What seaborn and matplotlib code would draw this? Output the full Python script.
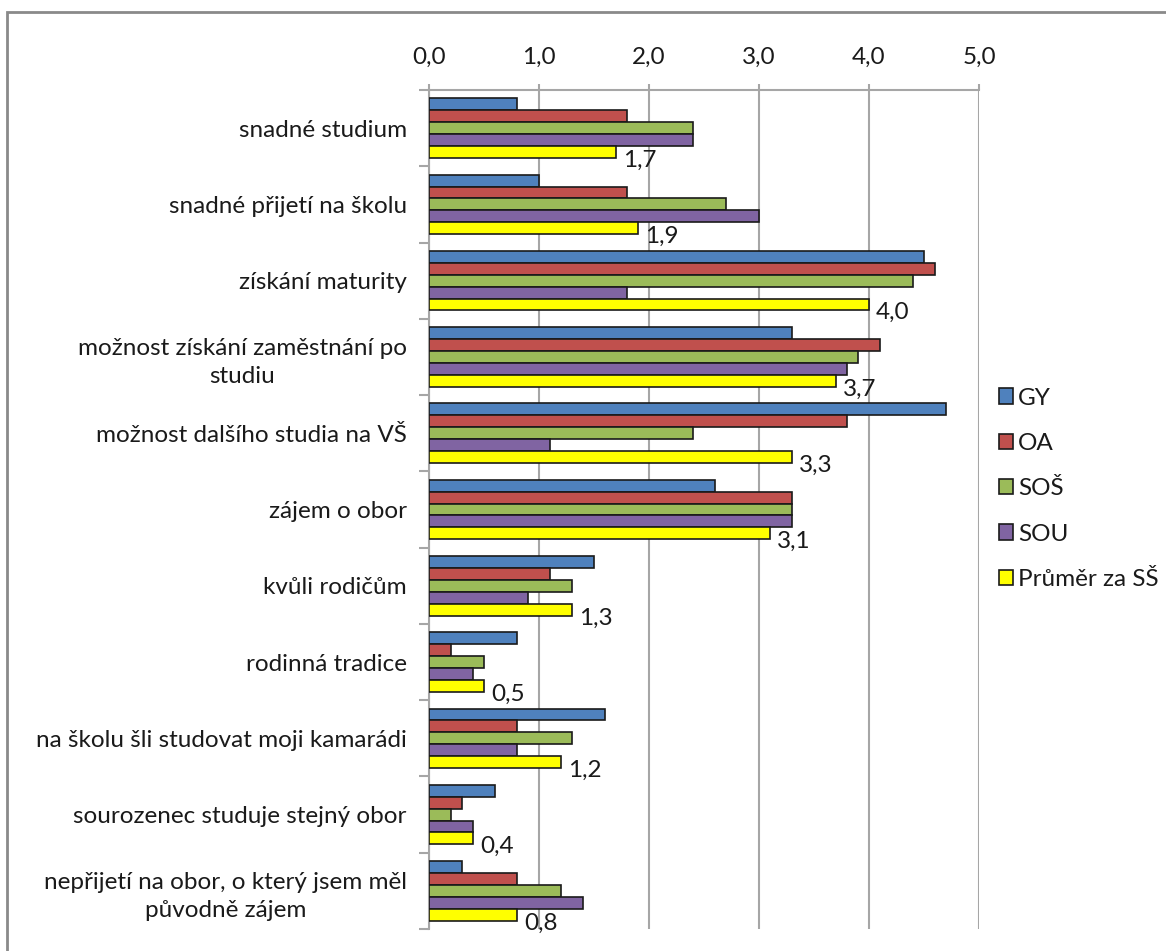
import numpy as np
import pandas as pd
import matplotlib
matplotlib.use("Agg")
import matplotlib.pyplot as plt
import matplotlib.patches as mpatches
from matplotlib.ticker import FuncFormatter
import seaborn as sns

# Reasons for choosing a secondary school, average score by school type
categories = [
    "snadné studium",
    "snadné přijetí na školu",
    "získání maturity",
    "možnost získání zaměstnání po\nstudiu",
    "možnost dalšího studia na VŠ",
    "zájem o obor",
    "kvůli rodičům",
    "rodinná tradice",
    "na školu šli studovat moji kamarádi",
    "sourozenec studuje stejný obor",
    "nepřijetí na obor, o který jsem měl\npůvodně zájem",
]
gy = [0.8, 1.0, 4.5, 3.3, 4.7, 2.6, 1.5, 0.8, 1.6, 0.6, 0.3]
oa = [1.8, 1.8, 4.6, 4.1, 3.8, 3.3, 1.1, 0.2, 0.8, 0.3, 0.8]
sos = [2.4, 2.7, 4.4, 3.9, 2.4, 3.3, 1.3, 0.5, 1.3, 0.2, 1.2]
sou = [2.4, 3.0, 1.8, 3.8, 1.1, 3.3, 0.9, 0.4, 0.8, 0.4, 1.4]
prumer = [1.7, 1.9, 4.0, 3.7, 3.3, 3.1, 1.3, 0.5, 1.2, 0.4, 0.8]

series_names = ["GY", "OA", "SOŠ", "SOU", "Průměr za SŠ"]
series_colors = ["#4F81BD", "#C0504D", "#9BBB59", "#8064A2", "#FFFF00"]
x_ticks = [0, 1, 2, 3, 4, 5]

wide = pd.DataFrame({"kategorie": categories, "GY": gy, "OA": oa,
                     "SOŠ": sos, "SOU": sou, "Průměr za SŠ": prumer})
df = wide.melt(id_vars="kategorie", var_name="typ", value_name="hodnota")

sns.set_theme(style="white")
plt.rcParams["font.family"] = ["Lato", "DejaVu Sans"]
TEXT = "#1a1a1a"
GRID = "#a6a6a6"
FS = 17.5

W, H = 1166, 951
fig = plt.figure(figsize=(W / 100, H / 100), dpi=100)
ax = fig.add_axes([429 / W, 1 - 929 / H, (979 - 429) / W, (929 - 90) / H])

sns.barplot(data=df, x="hodnota", y="kategorie", hue="typ",
            order=categories, hue_order=series_names,
            palette=series_colors, orient="h", width=0.78,
            edgecolor="#1a1a1a", linewidth=1.2, saturation=1,
            legend=False, ax=ax, zorder=3)

ax.set_xlim(0, 5)
ax.set_xticks(x_ticks)
ax.xaxis.tick_top()
ax.xaxis.set_major_formatter(FuncFormatter(lambda v, _: f"{v:.1f}".replace(".", ",")))
ax.set_xlabel("")
ax.set_ylabel("")
ax.grid(axis="x", color=GRID, linewidth=1.5, zorder=0)
ax.set_axisbelow(True)

for side in ["right", "bottom"]:
    ax.spines[side].set_visible(False)
for side in ["top", "left"]:
    ax.spines[side].set_color(GRID)
    ax.spines[side].set_linewidth(1.5)

ax.tick_params(axis="x", which="major", top=True, length=4, width=1.5,
               color=GRID, pad=12, labelsize=FS, labelcolor=TEXT)
ax.set_yticks(np.arange(-0.5, len(categories), 1), minor=True)
ax.tick_params(axis="y", which="minor", left=True, length=7, width=1.5, color=GRID)
ax.tick_params(axis="y", which="major", length=0, pad=16, labelsize=FS, labelcolor=TEXT)
for lbl in ax.get_yticklabels():
    lbl.set_multialignment("center")
    lbl.set_linespacing(1.4)

# value labels on the average bars only
avg_container = ax.containers[-1]
labels = ax.bar_label(avg_container,
                      fmt=lambda v: f"{v:.1f}".replace(".", ","),
                      padding=5, fontsize=FS, color=TEXT)
for t in labels:
    t.xyann = (5, -6)

handles = [mpatches.Patch(facecolor=c, edgecolor="#1a1a1a", linewidth=1.2)
           for c in series_colors]
fig.legend(handles, series_names, loc="upper left",
           bbox_to_anchor=(989 / W, 1 - 378 / H), frameon=False,
           fontsize=FS, labelcolor=TEXT, handlelength=0.6, handleheight=0.6,
           handletextpad=0.2, labelspacing=1.0, borderaxespad=0)

# outer frame of the chart
fig.patches.append(mpatches.Rectangle((7 / W, -0.1), 1.2, 1.1 - 12 / H,
                                      transform=fig.transFigure, fill=False,
                                      edgecolor="#8a8a8a", linewidth=2))

fig.savefig("out.png", dpi=100)
